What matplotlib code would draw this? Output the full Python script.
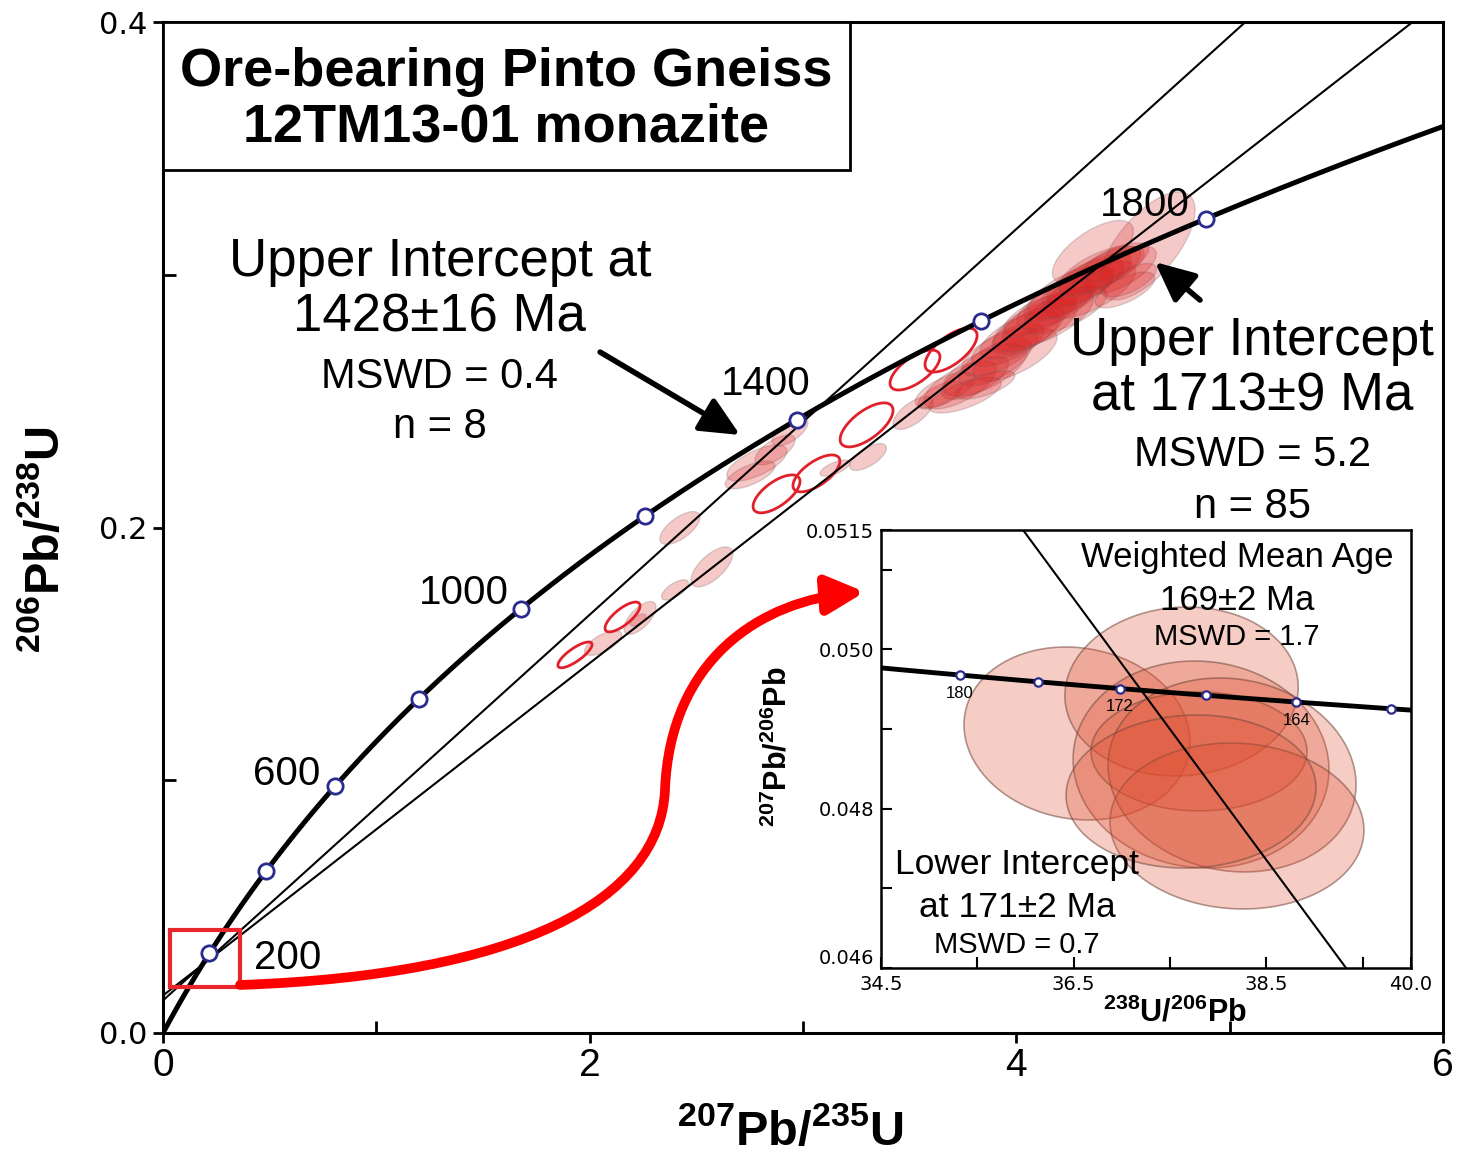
import numpy as np
import matplotlib
matplotlib.use('Agg')
import matplotlib.pyplot as plt
from matplotlib.patches import Polygon, Rectangle, FancyArrowPatch
from matplotlib.path import Path

plt.rcParams['font.family'] = ['Liberation Sans', 'DejaVu Sans']
plt.rcParams['mathtext.fontset'] = 'custom'
plt.rcParams['mathtext.rm'] = 'Liberation Sans'
plt.rcParams['mathtext.bf'] = 'Liberation Sans:bold'

# decay constants
L238 = 1.55125e-10
L235 = 9.8485e-10
U85 = 137.88

# concordia ages (Ma)
conc_ages = [200, 400, 600, 800, 1000, 1200, 1400, 1600, 1800]
label_ages = [200, 600, 1000, 1400, 1800]
label_offsets = [(56, -3), (-35, 9), (-41, 11.5), (-22, 26), (-44, 10)]

# intercepts (Ma)
lower_int = 171
upper_int_a = 1428
upper_int_b = 1713

# open red ellipses (1428 Ma group): 207Pb/235U, 206Pb/238U, 2s half widths, rho
red_x = [1.931, 2.154, 2.876, 3.063, 3.298, 3.525, 3.694]
red_y = [0.1496, 0.1646, 0.2133, 0.2214, 0.2406, 0.2623, 0.2702]
red_sx = [0.080, 0.082, 0.110, 0.110, 0.124, 0.117, 0.122]
red_sy = [0.0051, 0.0059, 0.0075, 0.0073, 0.0087, 0.0079, 0.0087]
red_rho = [0.8, 0.75, 0.66, 0.66, 0.66, 0.66, 0.66]

# filled pink ellipses (1713 Ma group)
pink_x = [2.423, 2.573, 2.400, 2.236, 2.063, 2.227, 2.784, 2.869, 2.939, 2.752,
          3.305, 3.150, 3.516, 3.642,
          3.736, 3.806, 3.853, 3.900, 3.923, 3.961, 3.994, 4.017, 4.055, 4.088,
          4.111, 4.148, 4.181, 4.205, 4.228, 4.252, 4.289, 4.322, 4.345, 4.369,
          4.392, 4.430, 4.463, 4.486, 4.359, 4.613, 4.509, 4.533, 3.666, 3.759,
          3.853]
pink_y = [0.1998, 0.1844, 0.1753, 0.1642, 0.1543, 0.1634, 0.2255, 0.2307, 0.2378, 0.2208,
          0.2279, 0.2235, 0.2453, 0.2524,
          0.2564, 0.2592, 0.2623, 0.2655, 0.2694, 0.2722, 0.2683, 0.2762, 0.2781, 0.2801,
          0.2841, 0.2829, 0.2880, 0.2900, 0.2861, 0.2932, 0.2948, 0.2971, 0.2940, 0.2999,
          0.3019, 0.3027, 0.3050, 0.3019, 0.3090, 0.3114, 0.2940, 0.2979, 0.2544, 0.2524,
          0.2564]
pink_sx = [0.094, 0.098, 0.063, 0.075, 0.087, 0.037, 0.141, 0.094, 0.084, 0.117,
           0.086, 0.070, 0.094, 0.103,
           0.170, 0.157, 0.197, 0.170, 0.180, 0.170, 0.197, 0.186, 0.170, 0.197,
           0.170, 0.214, 0.180, 0.170, 0.197, 0.197, 0.170, 0.180, 0.214, 0.170,
           0.191, 0.170, 0.157, 0.170, 0.190, 0.225, 0.140, 0.124, 0.140, 0.170,
           0.140]
pink_sy = [0.0065, 0.0079, 0.0040, 0.0065, 0.0049, 0.0024, 0.0071, 0.0059, 0.0055, 0.0055,
           0.0053, 0.0032, 0.0065, 0.0055,
           0.0095, 0.0085, 0.0104, 0.0095, 0.0095, 0.0085, 0.0104, 0.0095, 0.0095, 0.0104,
           0.0085, 0.0114, 0.0095, 0.0085, 0.0095, 0.0104, 0.0085, 0.0095, 0.0114, 0.0085,
           0.0095, 0.0085, 0.0076, 0.0095, 0.0125, 0.0214, 0.0071, 0.0066, 0.0071, 0.0071,
           0.0056]
pink_rho = 0.66

# inset (Tera-Wasserburg) data
tw_ages = [180, 176, 172, 168, 164, 160]
tw_label_ages = [180, 172, 164]
tw_x = [36.534, 37.619, 37.821, 37.800, 38.143, 38.194, 37.717]
tw_y = [0.048945, 0.049472, 0.048555, 0.048719, 0.048424, 0.047783, 0.048216]
tw_sx = [1.173, 1.211, 1.328, 1.121, 1.287, 1.318, 1.297]
tw_sy = [0.001086, 0.001061, 0.00130, 0.000747, 0.001218, 0.001042, 0.000961]
tw_rho = [-0.1, 0.05, -0.05, 0.0, -0.1, -0.05, 0.05]
tw_disc_slope = -0.001641


def conc_xy(t_ma):
    t = np.asarray(t_ma, dtype=float) * 1e6
    return np.exp(L235 * t) - 1, np.exp(L238 * t) - 1


def tw_xy(t_ma):
    x75, y68 = conc_xy(t_ma)
    return 1 / y68, x75 / y68 / U85


def ellipse(x, y, sx, sy, rho, n=90):
    cov = np.array([[sx * sx, rho * sx * sy], [rho * sx * sy, sy * sy]])
    L = np.linalg.cholesky(cov)
    t = np.linspace(0, 2 * np.pi, n)
    p = L @ np.vstack([np.cos(t), np.sin(t)])
    return np.column_stack([x + p[0], y + p[1]])


fig = plt.figure(figsize=(14.59, 11.60), dpi=100)
ax = fig.add_axes([163 / 1459, 1 - 1033 / 1160, 1280 / 1459, 1011 / 1160])
ax.set_xlim(0, 6)
ax.set_ylim(0, 0.4)

# pink ellipses
for i in range(len(pink_x)):
    ax.add_patch(Polygon(ellipse(pink_x[i], pink_y[i], pink_sx[i], pink_sy[i], pink_rho),
                         closed=True, facecolor=(0.86, 0.12, 0.12, 0.24),
                         edgecolor=(0.45, 0.35, 0.35, 0.25), lw=1, zorder=2))
# red open ellipses
for i in range(len(red_x)):
    ax.add_patch(Polygon(ellipse(red_x[i], red_y[i], red_sx[i], red_sy[i], red_rho[i]),
                         closed=True, fill=False, edgecolor='#e0202a', lw=2, zorder=3))

# discordia lines
xl, yl = conc_xy(lower_int)
for ui in [upper_int_a, upper_int_b]:
    xu, yu = conc_xy(ui)
    s = (yu - yl) / (xu - xl)
    xx = np.array([-0.5, 7.0])
    ax.plot(xx, yl + s * (xx - xl), color='k', lw=1.5, zorder=4)

# concordia
cx, cy = conc_xy(np.linspace(0, 2100, 500))
ax.plot(cx, cy, color='k', lw=3.6, zorder=4, solid_capstyle='butt')
mx, my = conc_xy(conc_ages)
ax.plot(mx, my, 'o', ms=11, mfc='white', mec='#2b2b8f', mew=2, zorder=6)
for age, off in zip(label_ages, label_offsets):
    px, py = conc_xy(age)
    ax.annotate(str(age), (px, py), xytext=off, textcoords='offset points',
                ha='center', va='center', fontsize=29, zorder=7)

# title box
ax.add_patch(Rectangle((0, 0.8536), 0.5367, 0.1464, transform=ax.transAxes,
                       facecolor='white', edgecolor='k', lw=2, zorder=8))
ax.text(0.268, 0.923, 'Ore-bearing Pinto Gneiss\n12TM13-01 monazite', transform=ax.transAxes,
        ha='center', va='center', fontsize=39, fontweight='bold',
        linespacing=1.13, zorder=9)

# intercept annotations
ax.text(1.298, 0.294, 'Upper Intercept at\n1428±16 Ma', ha='center', va='center',
        fontsize=38, linespacing=1.15, zorder=7)
ax.text(1.298, 0.2595, 'MSWD = 0.4', ha='center', va='center', fontsize=30, zorder=7)
ax.text(1.298, 0.2398, 'n = 8', ha='center', va='center', fontsize=30, zorder=7)
ax.text(5.105, 0.2627, 'Upper Intercept\nat 1713±9 Ma', ha='center', va='center',
        fontsize=38, linespacing=1.15, zorder=7)
ax.text(5.105, 0.2287, 'MSWD = 5.2', ha='center', va='center', fontsize=30, zorder=7)
ax.text(5.105, 0.2081, 'n = 85', ha='center', va='center', fontsize=30, zorder=7)

arrow_style = '-|>,head_length=0.6,head_width=0.28'
ax.annotate('', xy=(2.705, 0.2366), xytext=(2.049, 0.2694),
            arrowprops=dict(arrowstyle=arrow_style, lw=4, color='k',
                            mutation_scale=40, shrinkA=0, shrinkB=0), zorder=7)
ax.annotate('', xy=(4.650, 0.3050), xytext=(4.861, 0.2900),
            arrowprops=dict(arrowstyle=arrow_style, lw=4, color='k',
                            mutation_scale=40, shrinkA=0, shrinkB=0), zorder=7)

# red zoom box and curved arrow
ax.add_patch(Rectangle((0.033, 0.0182), 0.328, 0.0226, fill=False, edgecolor='#e8262d',
                       lw=3, zorder=7))
verts = [(0.361, 0.0190), (1.673, 0.0229), (2.330, 0.0526), (2.353, 0.0961),
         (2.377, 0.1476), (2.798, 0.1713), (3.290, 0.1745)]
codes = [Path.MOVETO, Path.CURVE4, Path.CURVE4, Path.CURVE4,
         Path.CURVE4, Path.CURVE4, Path.CURVE4]
ax.add_patch(FancyArrowPatch(path=Path(verts, codes),
                             arrowstyle='-|>,head_length=0.75,head_width=0.38',
                             mutation_scale=30, lw=7, color='#ff0000', zorder=7))

# axes styling
ax.set_xticks([0, 2, 4, 6])
ax.set_xticklabels(['0', '2', '4', '6'], fontsize=28)
ax.set_xticks([1, 3, 5], minor=True)
ax.set_yticks([0, 0.2, 0.4])
ax.set_yticklabels(['0.0', '0.2', '0.4'], family='DejaVu Sans', fontsize=22)
ax.set_yticks([0.1, 0.3], minor=True)
ax.tick_params(which='major', direction='out', length=7, width=2, pad=4)
ax.tick_params(which='minor', direction='in', length=9, width=2)
for sp in ax.spines.values():
    sp.set_linewidth(2.2)
ax.set_xlabel(r'$\mathbf{^{207}Pb/^{235}U}$', fontsize=35, va='center')
ax.xaxis.set_label_coords(0.49, -0.097)
ax.set_ylabel(r'$\mathbf{^{206}Pb/^{238}U}$', fontsize=35, va='center')
ax.yaxis.set_label_coords(-0.092, 0.488)

# ---- inset ----
ins = fig.add_axes([881 / 1459, 1 - 968 / 1160, 530 / 1459, 438 / 1160], zorder=10)
ins.set_facecolor('white')
ins.set_xlim(34.5, 40.0)
ins.set_ylim(0.046, 0.0515)
for i in range(len(tw_x)):
    ins.add_patch(Polygon(ellipse(tw_x[i], tw_y[i], tw_sx[i], tw_sy[i], tw_rho[i]),
                          closed=True, facecolor=(0.87, 0.30, 0.18, 0.28),
                          edgecolor=(0.45, 0.28, 0.24, 0.55), lw=1.2, zorder=2))
tx, ty = tw_xy(np.linspace(150, 195, 300))
ins.plot(tx, ty, color='k', lw=3.5, zorder=4)
mx, my = tw_xy(tw_ages)
ins.plot(mx, my, 'o', ms=6, mfc='white', mec='#2b2b8f', mew=1.6, zorder=5)
for age in tw_label_ages:
    px, py = tw_xy(age)
    ins.annotate(str(age), (px, py), xytext=(0, -13), textcoords='offset points',
                 ha='center', va='center', fontsize=12, zorder=6)
lx, ly = tw_xy(lower_int)
xx = np.array([33.0, 41.0])
ins.plot(xx, ly + tw_disc_slope * (xx - lx), color='k', lw=1.5, zorder=4)

ins.text(0.672, 0.938, 'Weighted Mean Age', transform=ins.transAxes, ha='center',
         va='center', fontsize=25, zorder=7)
ins.text(0.672, 0.840, '169±2 Ma', transform=ins.transAxes, ha='center', va='center',
         fontsize=25, zorder=7)
ins.text(0.672, 0.756, 'MSWD = 1.7', transform=ins.transAxes, ha='center', va='center',
         fontsize=21, zorder=7)
ins.text(0.257, 0.237, 'Lower Intercept', transform=ins.transAxes, ha='center',
         va='center', fontsize=25.5, zorder=7)
ins.text(0.257, 0.139, 'at 171±2 Ma', transform=ins.transAxes, ha='center',
         va='center', fontsize=25.5, zorder=7)
ins.text(0.257, 0.0525, 'MSWD = 0.7', transform=ins.transAxes, ha='center',
         va='center', fontsize=21, zorder=7)

ins.set_xticks([34.5, 35.5, 36.5, 37.5, 38.5, 39.5, 40.0])
ins.set_xticklabels(['34.5', '', '36.5', '', '38.5', '', '40.0'], family='DejaVu Sans',
                    fontsize=14)
ins.set_yticks([0.046, 0.047, 0.048, 0.049, 0.050, 0.051, 0.0515])
ins.set_yticklabels(['0.046', '', '0.048', '', '0.050', '', '0.0515'],
                    family='DejaVu Sans', fontsize=14)
ins.get_yticklabels()[0].set_verticalalignment('bottom')
ins.tick_params(direction='in', length=8, width=1.5, pad=5)
for sp in ins.spines.values():
    sp.set_linewidth(1.8)
ins.set_xlabel(r'$\mathbf{^{238}U/^{206}Pb}$', fontsize=22, va='center')
ins.xaxis.set_label_coords(0.555, -0.103)
ins.set_ylabel(r'$\mathbf{^{207}Pb/^{206}Pb}$', fontsize=22, va='center')
ins.yaxis.set_label_coords(-0.194, 0.505)

fig.savefig('out.png', dpi=100)
